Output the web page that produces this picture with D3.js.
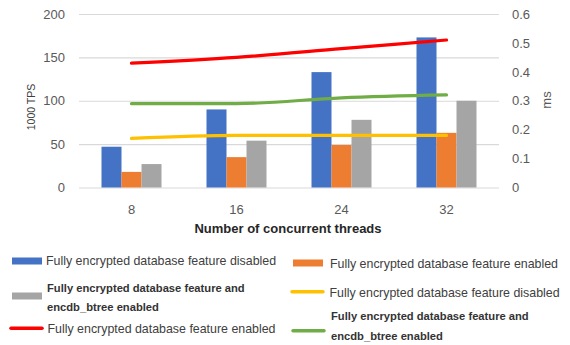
<!DOCTYPE html>
<html>
<head>
<meta charset="utf-8">
<script src="https://cdn.jsdelivr.net/npm/d3@7"></script>
<style>
  html, body { margin: 0; padding: 0; background: #fff; }
  svg { display: block; font-family: "Liberation Sans", Arial, sans-serif; }
</style>
</head>
<body>
<svg id="chart" width="570" height="345"></svg>
<script>
// Thread counts on the x axis
const threads = ["8", "16", "24", "32"];

// Throughput (1000 TPS), drawn as bars
const tpsDisabled = [47, 90, 133, 173];
const tpsEnabled = [18, 35, 49, 63];
const tpsBtree = [27, 54, 78, 100];

// Latency (ms), drawn as lines on the right axis
const msDisabled = [0.17, 0.18, 0.18, 0.18];
const msEnabled = [0.43, 0.45, 0.48, 0.51];
const msBtree = [0.29, 0.29, 0.31, 0.32];

const leftTicks = [0, 50, 100, 150, 200];
const rightTicks = [0, 0.1, 0.2, 0.3, 0.4, 0.5, 0.6];

const barNames = [
  "Fully encrypted database feature disabled",
  "Fully encrypted database feature enabled",
  "Fully encrypted database feature and encdb_btree enabled"
];
const lineNames = [
  "Fully encrypted database feature disabled",
  "Fully encrypted database feature enabled",
  "Fully encrypted database feature and encdb_btree enabled"
];

const barColors = ["#4472C4", "#ED7D31", "#A5A5A5"];
const lineColors = ["#FFC000", "#FF0000", "#70AD47"];

const barSeries = [tpsDisabled, tpsEnabled, tpsBtree];
const lineSeries = [msDisabled, msEnabled, msBtree];

const svg = d3.select("#chart");
const plot = { left: 79, right: 499, top: 14, bottom: 187.5 };

const x0 = d3.scaleBand().domain(threads).range([plot.left, plot.right]);
const groupW = 60;
const x1 = d3.scaleBand().domain(d3.range(barSeries.length)).range([0, groupW]);
const yL = d3.scaleLinear().domain([0, 200]).range([plot.bottom, plot.top]);
const yR = d3.scaleLinear().domain([0, 0.6]).range([plot.bottom, plot.top]);

const tickColor = "#595959";

// Horizontal gridlines
svg.append("g")
  .attr("transform", `translate(${plot.left},0)`)
  .call(d3.axisLeft(yL).tickValues(leftTicks).tickSize(-(plot.right - plot.left)).tickFormat(""))
  .call(g => g.select(".domain").remove())
  .call(g => g.selectAll("line").attr("stroke", "#d9d9d9").attr("stroke-width", 1.2));

// Left axis labels
svg.append("g")
  .attr("transform", `translate(${plot.left - 14},0)`)
  .call(d3.axisLeft(yL).tickValues(leftTicks).tickSize(0).tickPadding(0))
  .call(g => g.select(".domain").remove())
  .call(g => g.selectAll("text")
    .attr("fill", tickColor)
    .style("font-size", "13px")
    .style("font-family", "'Liberation Sans', Arial, sans-serif"));

// Right axis labels
svg.append("g")
  .attr("transform", `translate(${plot.right + 13},0)`)
  .call(d3.axisRight(yR).tickValues(rightTicks).tickSize(0).tickPadding(0)
    .tickFormat(d => d === 0 ? "0" : d3.format(".1f")(d)))
  .call(g => g.select(".domain").remove())
  .call(g => g.selectAll("text")
    .attr("fill", tickColor)
    .style("font-size", "13px")
    .style("font-family", "'Liberation Sans', Arial, sans-serif"));

// X axis category labels
svg.append("g")
  .attr("transform", `translate(0,${plot.bottom + 17})`)
  .call(d3.axisBottom(x0).tickSize(0).tickPadding(0))
  .call(g => g.select(".domain").remove())
  .call(g => g.selectAll("text")
    .attr("fill", tickColor)
    .style("font-size", "13px")
    .style("font-family", "'Liberation Sans', Arial, sans-serif"));

// Axis titles
svg.append("text")
  .attr("x", 288).attr("y", 233)
  .attr("text-anchor", "middle")
  .attr("fill", "#262626")
  .style("font-size", "13px").style("font-weight", "bold")
  .text("Number of concurrent threads");

svg.append("text")
  .attr("transform", "translate(34.5,107) rotate(-90)")
  .attr("text-anchor", "middle")
  .attr("fill", "#404040")
  .style("font-size", "10.5px")
  .text("1000 TPS");

svg.append("text")
  .attr("transform", "translate(551,100) rotate(-90)")
  .attr("text-anchor", "middle")
  .attr("fill", tickColor)
  .style("font-size", "13px")
  .text("ms");

// Bars
const groups = svg.append("g").selectAll("g")
  .data(threads)
  .join("g")
  .attr("transform", d => `translate(${x0(d) + (x0.bandwidth() - groupW) / 2},0)`);

groups.selectAll("rect")
  .data((d, i) => barSeries.map((s, k) => ({ k, v: s[i] })))
  .join("rect")
  .attr("x", d => x1(d.k))
  .attr("width", x1.bandwidth())
  .attr("y", d => yL(d.v))
  .attr("height", d => yL(0) - yL(d.v))
  .attr("fill", d => barColors[d.k]);

// Latency lines
const line = d3.line()
  .x((d, i) => x0(threads[i]) + x0.bandwidth() / 2)
  .y(d => yR(d))
  .curve(d3.curveMonotoneX);

svg.append("g").selectAll("path")
  .data(lineSeries)
  .join("path")
  .attr("d", line)
  .attr("fill", "none")
  .attr("stroke", (d, i) => lineColors[i])
  .attr("stroke-width", 3.2)
  .attr("stroke-linecap", "round");

// Legend
const legendItems = [
  { type: "bar", color: barColors[0], lines: [barNames[0]], bold: false, sx: 12, sy: 261, tx: 46, ty: 265 },
  { type: "bar", color: barColors[1], lines: [barNames[1]], bold: false, sx: 293, sy: 263, tx: 330, ty: 267.5 },
  { type: "bar", color: barColors[2], lines: ["Fully encrypted database feature and", "encdb_btree enabled"], bold: true, sx: 12, sy: 296, tx: 47, ty: 291.5 },
  { type: "line", color: lineColors[0], lines: [lineNames[0]], bold: false, sx: 292, sy: 291.7, tx: 329.5, ty: 296.5 },
  { type: "line", color: lineColors[1], lines: [lineNames[1]], bold: false, sx: 11, sy: 328.3, tx: 47.5, ty: 333 },
  { type: "line", color: lineColors[2], lines: ["Fully encrypted database feature and", "encdb_btree enabled"], bold: true, sx: 293, sy: 330.7, tx: 331, ty: 320 }
];

const legend = svg.append("g");
legendItems.forEach(it => {
  if (it.type === "bar") {
    legend.append("rect")
      .attr("x", it.sx).attr("y", it.sy - 3.5)
      .attr("width", 30).attr("height", 7)
      .attr("fill", it.color);
  } else {
    legend.append("line")
      .attr("x1", it.sx).attr("x2", it.sx + 31)
      .attr("y1", it.sy).attr("y2", it.sy)
      .attr("stroke", it.color).attr("stroke-width", 3.5)
      .attr("stroke-linecap", "round");
  }
  const t = legend.append("text")
    .attr("x", it.tx).attr("y", it.ty)
    .attr("fill", it.bold ? "#333333" : "#404040")
    .style("font-size", it.bold ? "11.2px" : "12.4px")
    .style("font-weight", it.bold ? "bold" : "normal");
  it.lines.forEach((ln, j) => {
    t.append("tspan").attr("x", it.tx).attr("dy", j === 0 ? 0 : 19.5).text(ln);
  });
});
</script>
</body>
</html>
